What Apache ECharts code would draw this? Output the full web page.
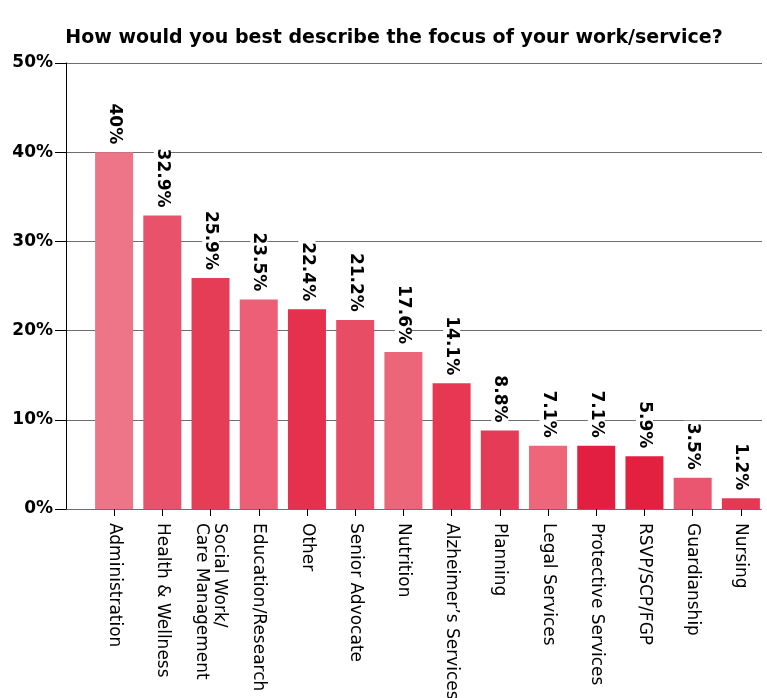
<!DOCTYPE html>
<html>
<head>
<meta charset="utf-8">
<script src="https://cdn.jsdelivr.net/npm/echarts@6/dist/echarts.min.js"></script>
<style>
  html, body { margin: 0; padding: 0; background: #fff; }
  #chart { width: 767px; height: 698px; }
</style>
</head>
<body>
<div id="chart"></div>
<script>
// focus of work/service, percent of respondents
const categories = [
  'Administration', 'Health & Wellness', 'Social Work/\nCare Management',
  'Education/Research', 'Other', 'Senior Advocate', 'Nutrition',
  'Alzheimer\u2019s Services', 'Planning', 'Legal Services',
  'Protective Services', 'RSVP/SCP/FGP', 'Guardianship', 'Nursing'
]
const values = [40, 32.9, 25.9, 23.5, 22.4, 21.2, 17.6, 14.1, 8.8, 7.1, 7.1, 5.9, 3.5, 1.2]
const barColors = [
  '#EE7588', '#E9526B', '#E63D57', '#EC5F76', '#E5314E', '#E84D66', '#EC667A',
  '#E63853', '#E63B56', '#ED6679', '#E21F40', '#E22140', '#EA5670', '#E63853'
]
const yTicks = [0, 10, 20, 30, 40, 50]

const chart = echarts.init(document.getElementById('chart'))
const font = 'DejaVu Sans'

chart.setOption({
  animation: false,
  title: {
    text: 'How would you best describe the focus of your work/service?',
    left: 389,
    top: 24,
    textAlign: 'center',
    textStyle: { fontFamily: font, fontWeight: 'bold', fontSize: 19, color: '#000' }
  },
  grid: [
    // frame grid: y axis, split lines
    { left: 66, right: 5, top: 63, bottom: 189, outerBoundsMode: 'none' },
    // bars grid
    { left: 90, right: 2, top: 63, bottom: 189, outerBoundsMode: 'none' }
  ],
  xAxis: [
    { gridIndex: 0, type: 'value', show: false, min: 0, max: 1 },
    {
      gridIndex: 1,
      type: 'category',
      data: categories,
      axisLine: { show: false },
      axisTick: { show: true, alignWithLabel: true, length: 7, lineStyle: { color: '#000' } },
      axisLabel: {
        rotate: -90,
        margin: 14,
        interval: 0,
        fontFamily: font,
        fontSize: 17,
        color: '#000',
        lineHeight: 18
      }
    }
  ],
  yAxis: [
    {
      gridIndex: 0,
      type: 'value',
      min: yTicks[0],
      max: yTicks[yTicks.length - 1],
      interval: 10,
      axisLine: { show: true, lineStyle: { color: '#000' } },
      axisTick: { show: true, length: 11, lineStyle: { color: '#000' } },
      splitLine: { show: true, lineStyle: { color: '#6e6e6e', width: 1.2 } },
      axisLabel: {
        margin: 13,
        fontFamily: font,
        fontWeight: 'bold',
        fontSize: 17,
        color: '#000',
        formatter: v => v + '%'
      }
    },
    { gridIndex: 1, type: 'value', show: false, min: 0, max: 50 }
  ],
  series: [{
    type: 'bar',
    xAxisIndex: 1,
    yAxisIndex: 1,
    barWidth: 38,
    data: values.map((v, i) => ({ value: v, itemStyle: { color: barColors[i] } })),
    label: {
      show: true,
      position: 'top',
      rotate: -90,
      align: 'right',
      verticalAlign: 'middle',
      distance: 6,
      fontFamily: font,
      fontWeight: 'bold',
      fontSize: 17,
      color: '#000',
      backgroundColor: '#fff',
      padding: [0, 2],
      formatter: p => p.value + '%'
    }
  }]
})
</script>
</body>
</html>
